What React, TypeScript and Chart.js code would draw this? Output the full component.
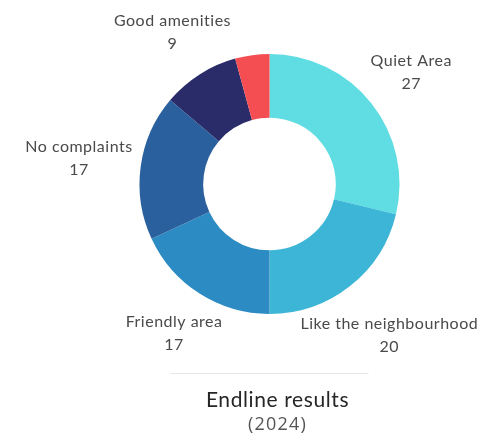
import React, { useEffect, useRef } from "react";
import { Chart, registerables } from "chart.js";

Chart.register(...registerables);

const categories = ["Quiet Area", "Like the neighbourhood", "Friendly area", "No complaints", "Good amenities", ""];
const values = [27, 20, 17, 17, 9, 4];
const colors = ["#5fdde3", "#3cb5d6", "#2c8bc2", "#2b609e", "#2a2c6a", "#f44e52"];
const titleText = "Endline results";
const subtitleText = "(2024)";

const outerLabels = {
  id: "outerLabels",
  afterDatasetsDraw(chart: any) {
    const ctx = chart.ctx as any;
    const meta = chart.getDatasetMeta(0);
    ctx.save();
    ctx.font = "16px Lato, 'Open Sans', sans-serif";
    ctx.letterSpacing = "0.5px";
    ctx.fillStyle = "#4a4a4a";
    ctx.textAlign = "center";
    ctx.textBaseline = "middle";
    let cxAll = 0, cyAll = 0, rAll = 0;
    meta.data.forEach((arc: any, i: number) => {
      const p = arc.getProps(["x", "y", "startAngle", "endAngle", "outerRadius"], true);
      cxAll = p.x; cyAll = p.y; rAll = p.outerRadius;
      if (!categories[i]) return;
      const mid = (p.startAngle + p.endAngle) / 2;
      const w = ctx.measureText(categories[i]).width;
      const d = p.outerRadius + 33 + 0.55 * (w / 2) * Math.abs(Math.cos(mid));
      const lx = p.x + Math.cos(mid) * d;
      const ly = p.y + Math.sin(mid) * d;
      ctx.fillText(categories[i], lx, ly - 11.5);
      ctx.fillText(String(values[i]), lx, ly + 11.5);
    });
    // separator line
    const tx = cxAll + 8;
    const lineY = cyAll + rAll + 59;
    ctx.strokeStyle = "#e6e6e6";
    ctx.lineWidth = 1;
    ctx.beginPath();
    ctx.moveTo(cxAll - 99, lineY + 0.5);
    ctx.lineTo(cxAll + 99, lineY + 0.5);
    ctx.stroke();
    // title
    ctx.fillStyle = "#262626";
    ctx.font = "21px Lato, 'Open Sans', sans-serif";
    ctx.letterSpacing = "0.6px";
    ctx.fillText(titleText, tx, lineY + 27);
    ctx.fillStyle = "#555555";
    ctx.font = "18px 'Open Sans', sans-serif";
    ctx.letterSpacing = "1.2px";
    ctx.fillText(subtitleText, tx, lineY + 52);
    ctx.restore();
  },
};

export default function App() {
  const ref = useRef<HTMLCanvasElement | null>(null);
  useEffect(() => {
    if (!ref.current) return;
    const chart = new Chart(ref.current, {
      type: "doughnut",
      data: {
        labels: categories,
        datasets: [
          {
            data: values,
            backgroundColor: colors,
            borderWidth: 0,
          },
        ],
      },
      options: {
        animation: false,
        responsive: true,
        maintainAspectRatio: false,
        cutout: "51%",
        layout: { padding: { top: 54, bottom: 122, left: 130, right: 68 } },
        plugins: {
          legend: { display: false },
          tooltip: { enabled: false },
          title: { display: false },
        },
      },
      plugins: [outerLabels],
    });
    return () => chart.destroy();
  }, []);
  return (
    <div style={{ position: "fixed", left: 0, top: 0, width: 477, height: 436, background: "#ffffff" }}>
      <canvas ref={ref} />
    </div>
  );
}
